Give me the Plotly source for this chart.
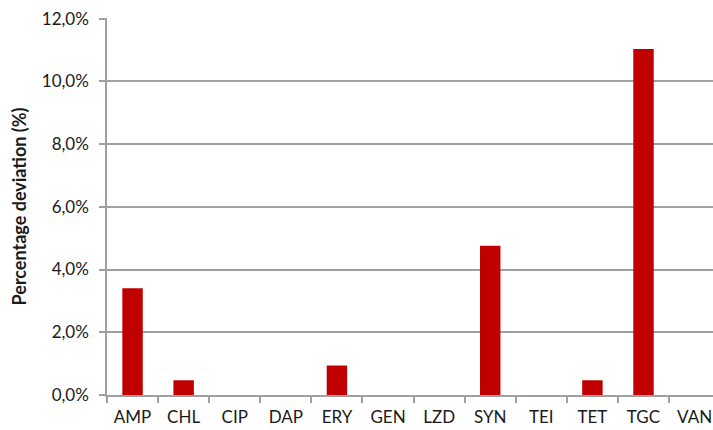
import plotly.graph_objects as go

categories = ["AMP", "CHL", "CIP", "DAP", "ERY", "GEN", "LZD", "SYN", "TEI", "TET", "TGC", "VAN"]
deviation = [0.0340, 0.0047, 0.0, 0.0, 0.0094, 0.0, 0.0, 0.0476, 0.0, 0.0047, 0.1103, 0.0]
y_max = 0.12
y_step = 0.02

fig = go.Figure(go.Bar(
    x=categories, y=deviation,
    marker=dict(color="#C00000", line=dict(width=0)),
    width=0.4,
))

fig.update_layout(
    width=713, height=430,
    margin=dict(l=107, r=0, t=18, b=35),
    paper_bgcolor="white", plot_bgcolor="white",
    font=dict(family="Lato, Open Sans, sans-serif", size=17, color="#1a1a1a"),
    separators=", ",
    showlegend=False,
)
fig.update_xaxes(
    type="category",
    range=[-0.5, 11.36],
    showgrid=False,
    showline=True, linecolor="#A0A0A0", linewidth=1.5,
    ticks="outside", tickson="boundaries", ticklen=6, tickcolor="#A0A0A0", tickwidth=1.5,
    ticklabelstandoff=6,
    tickfont=dict(size=17),
)
fig.update_yaxes(
    range=[0, y_max * 1.0015],
    tickmode="linear", tick0=0, dtick=y_step, tickformat=".1%",
    showgrid=True, gridcolor="#A0A0A0", gridwidth=1.5,
    showline=True, linecolor="#A0A0A0", linewidth=1.5,
    ticks="outside", ticklen=6, tickcolor="#A0A0A0", tickwidth=1.5,
    ticklabelstandoff=7,
    tickfont=dict(size=17),
    zeroline=False,
    title=dict(text="<b>Percentage deviation (%)</b>", font=dict(size=18), standoff=10),
)

fig.write_html(
    "out.html",
    config={"displayModeBar": False},
    post_script="document.body.style.margin='0';document.body.style.overflow='hidden';",
)
